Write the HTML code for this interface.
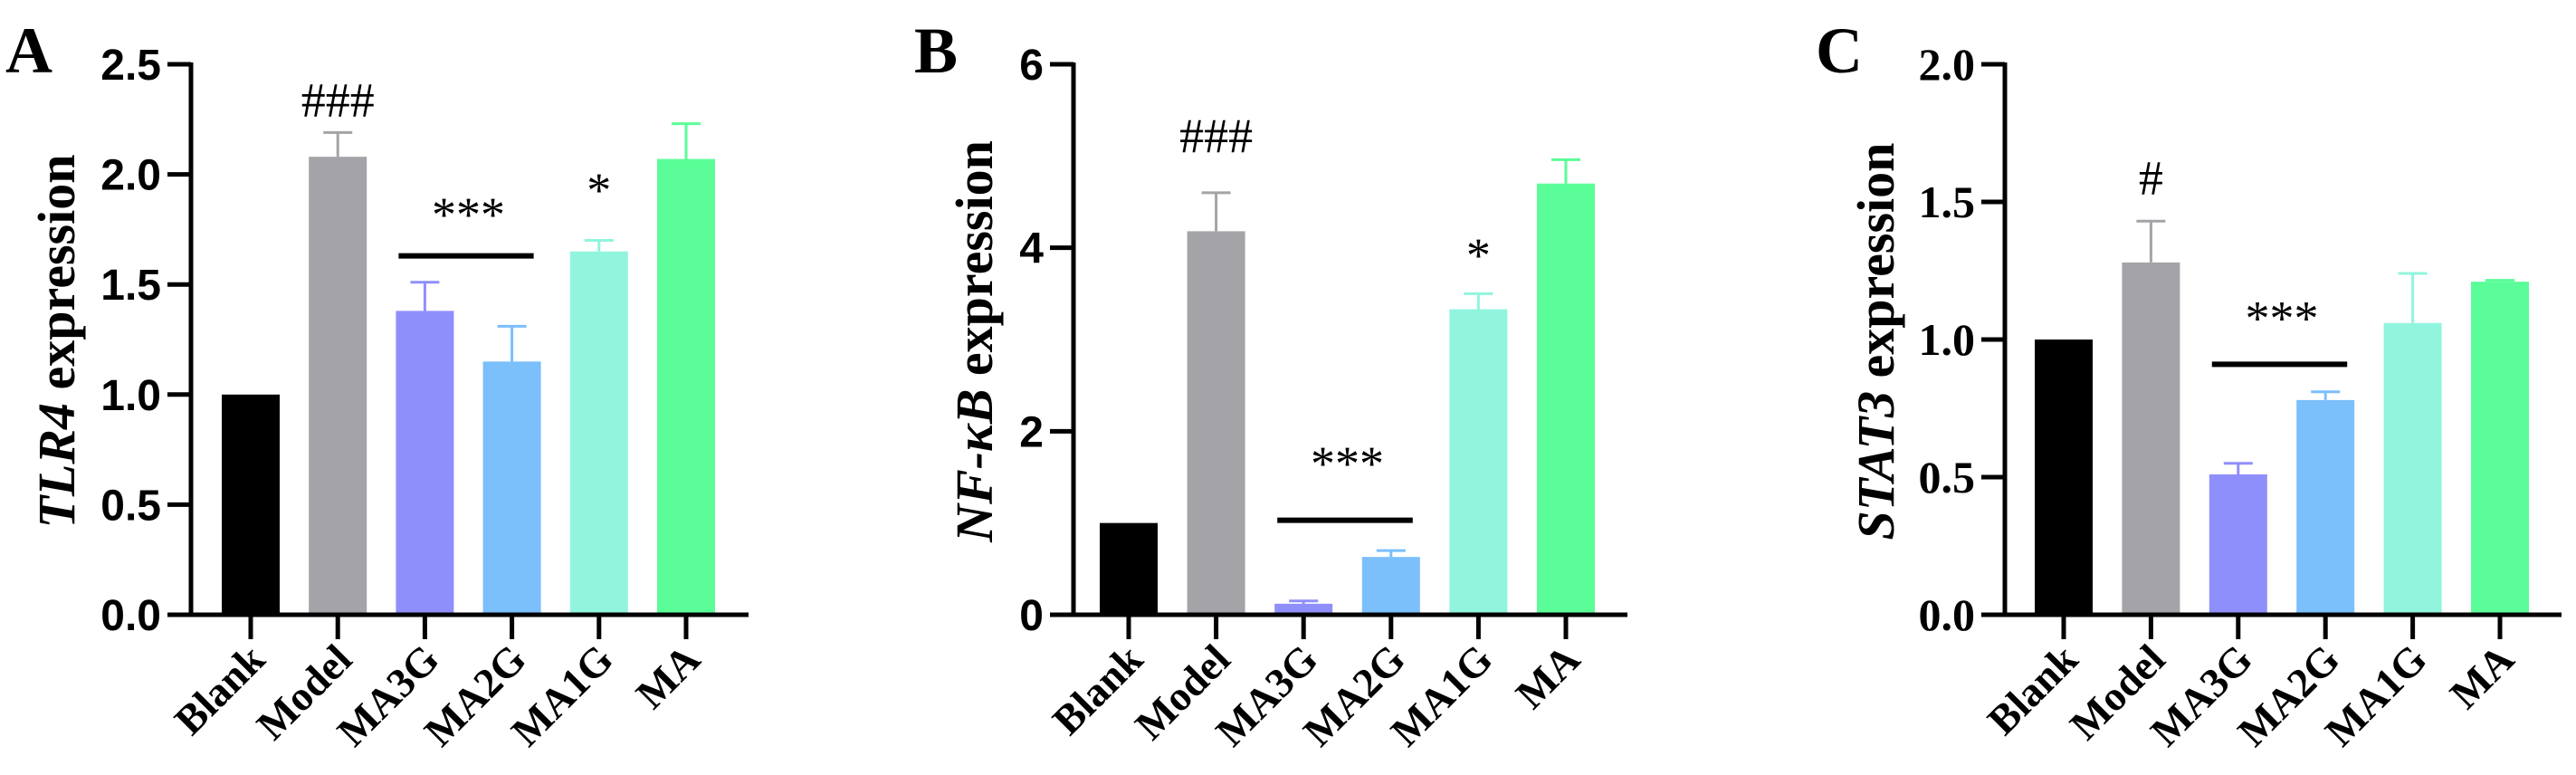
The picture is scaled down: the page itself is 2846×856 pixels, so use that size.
<!DOCTYPE html>
<html><head><meta charset="utf-8"><style>
html,body{margin:0;padding:0;background:#fff;}
svg{display:block;}
.tk{font-family:"Liberation Sans",Arial,sans-serif;font-weight:bold;font-size:48px;}
.tkS{font-family:"Liberation Serif",serif;font-weight:bold;font-size:50px;}
.xl{font-family:"Liberation Serif",serif;font-weight:bold;font-size:46px;}
.yt{font-family:"Liberation Serif",serif;font-weight:bold;font-size:58px;}
.pl{font-family:"Liberation Serif",serif;font-weight:bold;font-size:72px;}
.sig{font-family:"Liberation Serif",serif;font-size:54px;}
</style></head><body>
<svg id="fig" width="2846" height="856" viewBox="0 0 2846 856" xmlns="http://www.w3.org/2000/svg"></svg>
<script>
const categories=["Blank","Model","MA3G","MA2G","MA1G","MA"];
const colors=["#000000","#a4a4a8","#8f8ffc","#7bbffb","#91f5de","#5bfd98"];
const tlr4Values=[1.0,2.08,1.38,1.15,1.65,2.07];
const tlr4Err=[0,0.11,0.13,0.16,0.05,0.16];
const tlr4Ticks=["0.0","0.5","1.0","1.5","2.0","2.5"];
const nfkbValues=[1.0,4.18,0.12,0.63,3.33,4.70];
const nfkbErr=[0,0.42,0.03,0.07,0.17,0.26];
const nfkbTicks=["0","2","4","6"];
const stat3Values=[1.0,1.28,0.51,0.78,1.06,1.21];
const stat3Err=[0,0.15,0.04,0.03,0.18,0.005];
const stat3Ticks=["0.0","0.5","1.0","1.5","2.0"];

const NS="http://www.w3.org/2000/svg";
const svg=document.getElementById('fig');
function mk(tag,attrs,parent,text){const e=document.createElementNS(NS,tag);for(const k in attrs)e.setAttribute(k,attrs[k]);if(text!==undefined)e.textContent=text;(parent||svg).appendChild(e);return e;}

const panels=[
 {key:"a",label:"A",lx:6,ax:211,x0:277,step:96.2,xend:827,yTop:71,yBot:679,max:2.5,vals:tlr4Values,err:tlr4Err,ticks:tlr4Ticks,tcls:"tk",
  title:[["TLR4","italic"],[" expression","normal"]],tx:62,ty:377,
  sigLine:{from:2,to:3,v:1.63},sigs:[{i:1,t:"###",v:2.33},{i:2.5,t:"***",v:1.81},{i:4,t:"*",v:1.92}]},
 {key:"b",label:"B",lx:1010,ax:1186,x0:1247,step:96.6,xend:1798,yTop:71,yBot:679,max:6,vals:nfkbValues,err:nfkbErr,ticks:nfkbTicks,tcls:"tk",
  title:[["NF-κB","italic"],[" expression","normal"]],tx:1076,ty:377,
  sigLine:{from:2,to:3,v:1.03},sigs:[{i:1,t:"###",v:5.2},{i:2.5,t:"***",v:1.63},{i:4,t:"*",v:3.9}]},
 {key:"c",label:"C",lx:2006,ax:2215,x0:2280,step:96.4,xend:2830,yTop:71,yBot:679,max:2.0,vals:stat3Values,err:stat3Err,ticks:stat3Ticks,tcls:"tkS",
  title:[["STAT3","italic"],[" expression","normal"]],tx:2072,ty:377,
  sigLine:{from:2,to:3,v:0.91},sigs:[{i:1,t:"#",v:1.58},{i:2.5,t:"***",v:1.07}]}
];

panels.forEach(p=>{
  const g=mk('g',{});
  
  
  const y=v=>p.yBot-(v/p.max)*(p.yBot-p.yTop);
  const x=i=>p.x0+i*p.step;
  const bw=64;
  p.vals.forEach((v,i)=>{
    const r=mk('rect',{x:x(i)-bw/2,y:y(v),width:bw,height:p.yBot-y(v),fill:colors[i]},g);
    
    
    if(p.err[i]>0){
      const e=mk('path',{d:`M${x(i)} ${y(v)} V${y(v+p.err[i])} M${x(i)-16} ${y(v+p.err[i])} H${x(i)+16}`,stroke:colors[i],'stroke-width':3,fill:'none'},g);
      
      
    }
  });
  const ya=mk('path',{d:`M${p.ax} ${p.yTop-2} V${p.yBot+2.5}`,stroke:'#000','stroke-width':5,fill:'none'},g);
  
  
  const xa=mk('path',{d:`M${p.ax-2.5} ${p.yBot} H${p.xend}`,stroke:'#000','stroke-width':5,fill:'none'},g);
  
  
  p.ticks.forEach((t,k)=>{
    const v=parseFloat(t);
    mk('path',{d:`M${p.ax-26} ${y(v)} H${p.ax}`,stroke:'#000','stroke-width':5},g);
    const tl=mk('text',{x:p.ax-33,y:y(v)+17,'text-anchor':'end',class:p.tcls},g,t);
    
    
  });
  categories.forEach((c,i)=>{
    mk('path',{d:`M${x(i)} ${p.yBot} V${p.yBot+27}`,stroke:'#000','stroke-width':5},g);
    const ax=x(i)+18, ay=p.yBot+52;
    const xl=mk('text',{x:ax,y:ay,'text-anchor':'end',class:'xl',transform:`rotate(-45 ${ax} ${ay})`},g,c);
    
    
  });
  const tt=mk('text',{x:p.tx,y:p.ty,'text-anchor':'middle',class:'yt',transform:`rotate(-90 ${p.tx} ${p.ty})`},g);
  
  
  p.title.forEach(([s,st])=>{mk('tspan',{'font-style':st},tt,s);});
  tt.setAttribute('dy','20');
  const pl=mk('text',{x:p.lx,y:80,class:'pl'},g,p.label);
  
  
  const sl=p.sigLine;
  const line=mk('path',{d:`M${x(sl.from)-bw/2+3} ${y(sl.v)} H${x(sl.to)+bw/2-8}`,stroke:'#000','stroke-width':6},g);
  
  
  p.sigs.forEach(s=>{
    const st=mk('text',{x:x(s.i),y:y(s.v)+16,'text-anchor':'middle',class:'sig'},g,s.t);
    
    
  });
});
</script>
</body></html>
